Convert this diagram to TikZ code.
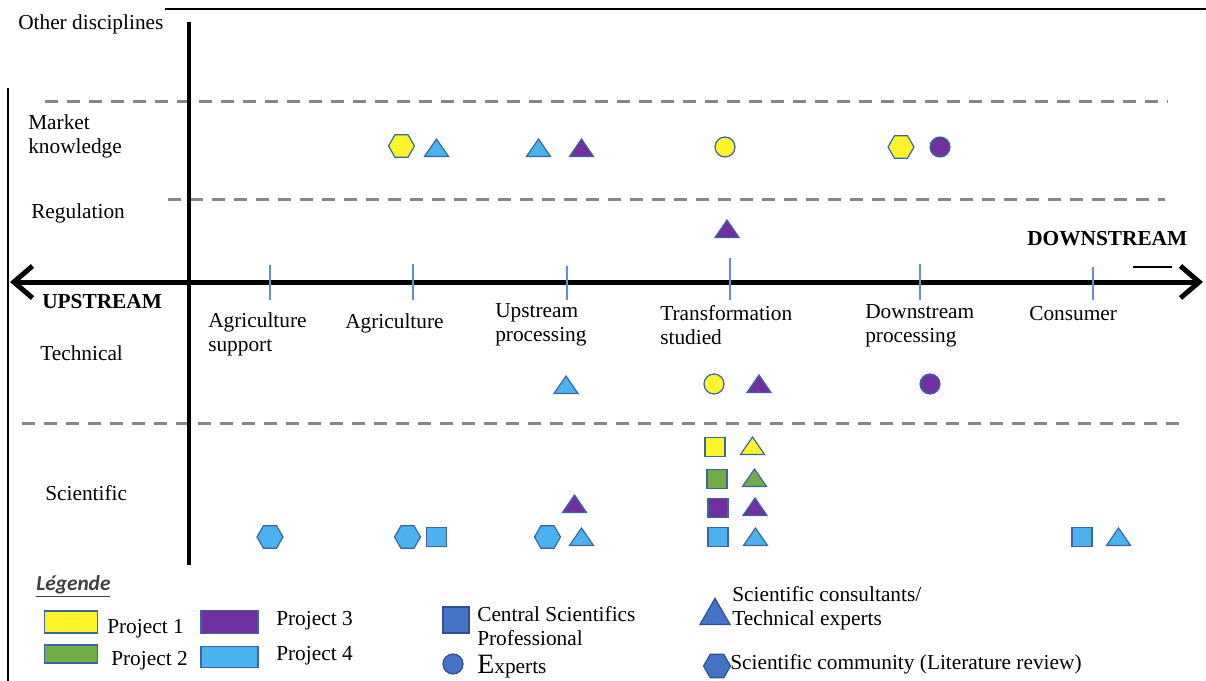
\documentclass[tikz,border=0pt]{standalone}
\usepackage{fontspec}
\setmainfont{Liberation Serif}
\newfontfamily\calfont{Carlito}
\usetikzlibrary{shapes.geometric,arrows.meta}
\definecolor{pyel}{HTML}{FFF32A}
\definecolor{pgrn}{HTML}{70AD47}
\definecolor{ppur}{HTML}{7030A0}
\definecolor{pblu}{HTML}{4BB1EF}
\definecolor{bord}{HTML}{3A64A4}
\definecolor{cblu}{HTML}{4472C4}
\definecolor{cbord}{HTML}{2F528F}
\definecolor{tickc}{HTML}{5E90D8}
\definecolor{dashc}{HTML}{858585}
\definecolor{legc}{HTML}{404040}
\begin{document}
\begin{tikzpicture}[x=0.75pt,y=-0.75pt,
  txt/.style={inner sep=0pt,anchor=west,align=left,yshift=-2.25pt,font=\fontsize{16}{18}\selectfont},
  btxt/.style={txt,font=\fontsize{16}{18}\selectfont\bfseries},
  symb/.style={draw=bord,line width=0.9pt,inner sep=0pt,fill=#1},
  sq/.style={symb=#1,rectangle,minimum width=15pt,minimum height=14pt},
  ci/.style={symb=#1,circle,minimum size=15pt},
  tri/.style={symb=#1,regular polygon,regular polygon sides=3,minimum size=20.8pt,yscale=0.84,anchor=south},
  hexa/.style={symb=#1,regular polygon,regular polygon sides=6,minimum size=19.5pt},
  legbox/.style={draw=bord,line width=1pt,inner sep=0pt,fill=#1},
  dashline/.style={draw=dashc,line width=2.25pt,dash pattern=on 9.4pt off 7.1pt},
  tickline/.style={draw=tickc,line width=1.4pt},
  axis/.style={line width=3.75pt,{Straight Barb[length=14pt,width=24pt]}-{Straight Barb[length=14pt,width=24pt]}}
]
\useasboundingbox (0,0) rectangle (1206,681);

% frame lines
\coordinate (topL) at (165,9);
\coordinate (topR) at (1206,9);
\draw[line width=1.9pt] (topL) -- (topR);
\coordinate (lfT) at (8,88);
\coordinate (lfB) at (8,681);
\draw[line width=1.5pt] (lfT) -- (lfB);

% dashed separators
\coordinate (d1a) at (45,102);  \coordinate (d1b) at (1168,102);
\coordinate (d2a) at (168,199); \coordinate (d2b) at (1165,199);
\coordinate (d3a) at (22,423);  \coordinate (d3b) at (1186,423);
\draw[dashline] (d1a) -- (d1b);
\draw[dashline] (d2a) -- (d2b);
\draw[dashline] (d3a) -- (d3b);

% vertical axis
\coordinate (vT) at (189,22);
\coordinate (vB) at (189,565);
\draw[line width=3pt] (vT) -- (vB);

% horizontal axis
\coordinate (hL) at (10,282);
\coordinate (hR) at (1203,282);
\draw[axis] (hL) -- (hR);
\coordinate (sA) at (1133,267);
\coordinate (sB) at (1172,267);
\draw[line width=1.1pt] (sA) -- (sB);

% ticks
\foreach \x/\t in {270/265,413/264,567/266,730/258,920/264,1093/267}{
  \coordinate (tk\x a) at (\x,\t);
  \coordinate (tk\x b) at (\x,300);
  \draw[tickline] (tk\x a) -- (tk\x b);
}

% texts
\node[txt] (od) at (18,21) {Other disciplines};
\node[txt] (mk) at (28,133) {Market\\knowledge};
\node[txt] (rg) at (31,210) {Regulation};
\node[btxt] (up) at (42,299) {UPSTREAM};
\node[btxt] (dn) at (1027,236) {DOWNSTREAM};
\node[txt] (tc) at (40,350) {Technical};
\node[txt] (sc) at (45,490) {Scientific};
\node[txt] (c1) at (208,331) {Agriculture\\support};
\node[txt] (c2) at (345,320) {Agriculture};
\node[txt] (c3) at (495,322) {Upstream\\processing};
\node[txt] (c4) at (660,322) {Transformation\\studied};
\node[txt] (c5) at (865,323) {Downstream\\processing};
\node[txt] (c6) at (1029,311) {Consumer};

% market knowledge row
\node[hexa=pyel] (m1) at (401.5,146) {};
\node[tri=pblu] (m2) at (436.5,157) {};
\node[tri=pblu] (m3) at (538.5,157) {};
\node[tri=ppur] (m4) at (581.5,157) {};
\node[ci=pyel] (m5) at (725,147) {};
\node[hexa=pyel] (m6) at (901,147) {};
\node[ci=ppur] (m7) at (940,147) {};

% regulation
\node[tri=ppur] (r1) at (727,238) {};

% technical
\node[tri=pblu] (t1) at (566,394) {};
\node[ci=pyel] (t2) at (714,384) {};
\node[tri=ppur] (t3) at (759,393) {};
\node[ci=ppur] (t4) at (930,384) {};

% scientific
\node[sq=pyel] (s1) at (715,447) {};
\node[tri=pyel] (s2) at (752.5,455) {};
\node[sq=pgrn] (s3) at (717,479) {};
\node[tri=pgrn] (s4) at (754.5,487) {};
\node[sq=ppur] (s5) at (718,508) {};
\node[tri=ppur] (s6) at (755,516) {};
\node[sq=pblu] (s7) at (718,537) {};
\node[tri=pblu] (s8) at (755.5,546) {};
\node[tri=ppur] (s9) at (574.5,513) {};
\node[hexa=pblu] (s10) at (270,537) {};
\node[hexa=pblu] (s11) at (407.5,537) {};
\node[sq=pblu] (s12) at (436.5,537) {};
\node[hexa=pblu] (s13) at (547.5,537) {};
\node[tri=pblu] (s14) at (581.5,546) {};
\node[sq=pblu] (s15) at (1082,537) {};
\node[tri=pblu] (s16) at (1118.5,546) {};

% legend
\node[inner sep=0pt,anchor=west,yshift=-2.25pt,font=\calfont\fontsize{16}{18}\selectfont\bfseries\itshape,text=legc] (lg) at (36,583) {\underline{Légende}};
\node[legbox=pyel,minimum width=39.75pt,minimum height=16.5pt] (lp1) at (71,622) {};
\node[legbox=pgrn,minimum width=39.75pt,minimum height=13.5pt] (lp2) at (71,654) {};
\node[legbox=ppur,minimum width=42.75pt,minimum height=17.25pt] (lp3) at (229.5,622) {};
\node[legbox=pblu,minimum width=42.75pt,minimum height=15.75pt] (lp4) at (229.5,657) {};
\node[txt] (lt1) at (107,626) {Project 1};
\node[txt] (lt2) at (111,658) {Project 2};
\node[txt] (lt3) at (276,618) {Project 3};
\node[txt] (lt4) at (276,653) {Project 4};

\node[draw=cbord,fill=cblu,line width=0.9pt,inner sep=0pt,minimum size=19.5pt] (lsq) at (456,620) {};
\node[draw=cbord,fill=cblu,line width=0.9pt,inner sep=0pt,circle,minimum size=15pt] (lci) at (453,664) {};
\node[draw=cbord,fill=cblu,line width=0.9pt,inner sep=0pt,regular polygon,regular polygon sides=3,minimum size=26pt,anchor=south] (ltr) at (715,625) {};
\node[draw=cbord,fill=cblu,line width=0.9pt,inner sep=0pt,regular polygon,regular polygon sides=6,minimum size=20.25pt] (lhx) at (717,666) {};
\node[txt] (lsqt) at (477,623) {Central Scientifics\\Professional};
\node[txt] (lcit) at (477,664) {{\fontsize{21}{21}\selectfont E}xperts};
\node[txt] (ltrt) at (732,605) {Scientific consultants/\\Technical experts};
\node[txt] (lhxt) at (730,661) {Scientific community (Literature review)};
\end{tikzpicture}
\end{document}
